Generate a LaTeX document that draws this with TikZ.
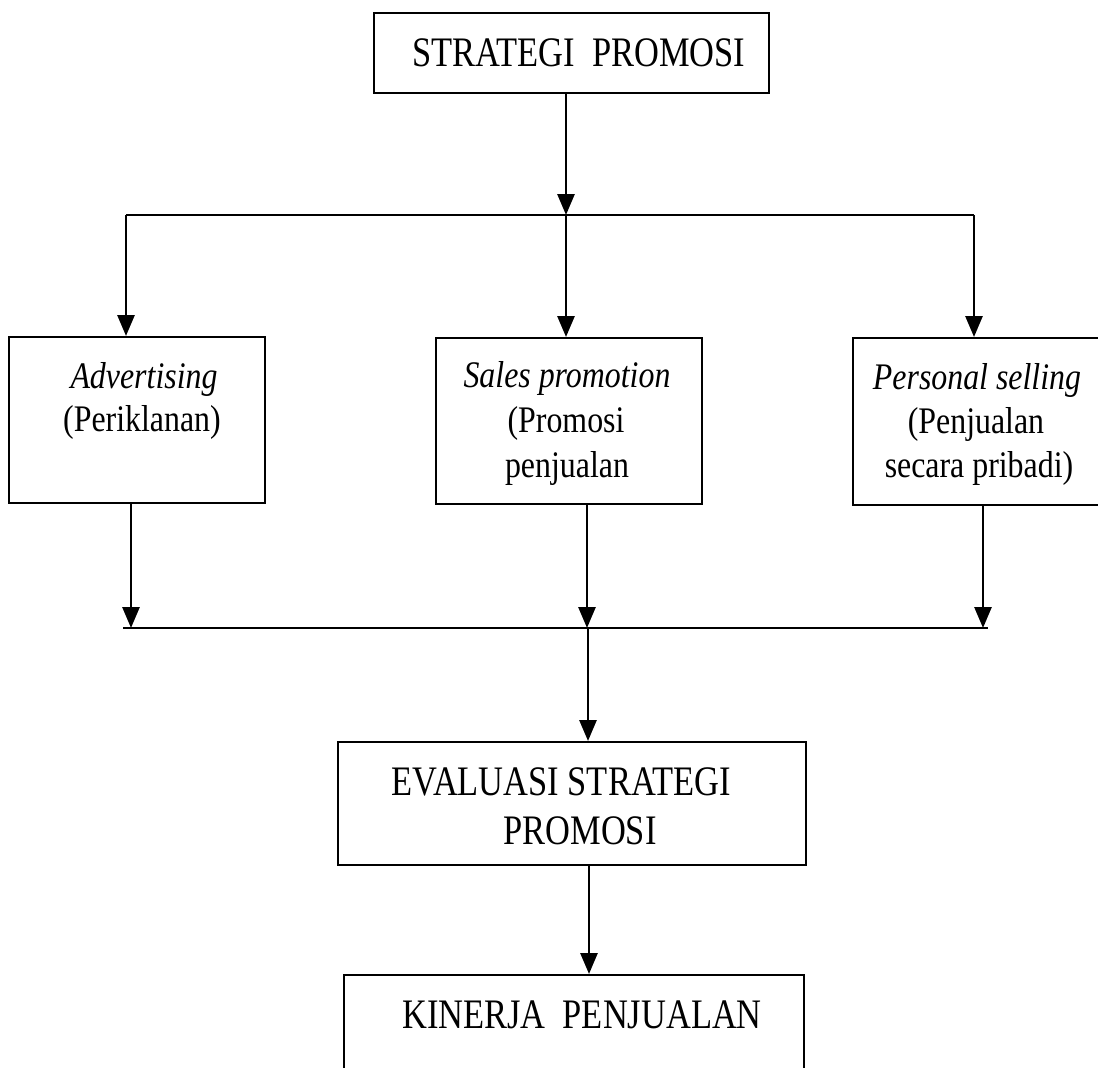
\documentclass[tikz,border=0pt]{standalone}
\usepackage{fontspec}
\setmainfont{Liberation Serif}[FakeStretch=0.85]
\newfontfamily\capfont{Liberation Serif}[FakeStretch=0.82]
\usetikzlibrary{arrows.meta}
\tikzset{
  box/.style={draw, line width=1.6pt, rectangle, inner sep=0pt, anchor=north west},
  arr/.style={line width=2.8pt, -{Triangle[width=17pt,length=21pt]}},
  hln/.style={line width=2pt},
  captxt/.style={font=\capfont\fontsize{42}{42}\selectfont, anchor=base, inner sep=0pt},
  boxtxt/.style={font=\fontsize{37.5}{37.5}\selectfont, anchor=base, inner sep=0pt},
}
\begin{document}
\begin{tikzpicture}[x=1pt,y=-1pt]
\useasboundingbox (0,0) rectangle (1098,1068);
\clip (0,0) rectangle (1098,1068);
% boxes
\node[box, minimum width=395pt, minimum height=80pt] (top) at (373,12) {};
\node[box, minimum width=256pt, minimum height=166pt] (adv) at (8,336) {};
\node[box, minimum width=266pt, minimum height=166pt] (sal) at (435,337) {};
\node[box, minimum width=270pt, minimum height=167pt] (per) at (852,337) {};
\node[box, minimum width=468pt, minimum height=123pt] (eva) at (337,741) {};
\node[box, minimum width=460pt, minimum height=140pt] (kin) at (343,974) {};
% texts
\node[captxt] (ttop) at (579,66) {STRATEGI\ \ PROMOSI};
\node[boxtxt] (tadv1) at (144,388) {\itshape Advertising};
\node[boxtxt] (tadv2) at (142,431) {(Periklanan)};
\node[boxtxt] (tsal1) at (567,387) {\itshape Sales promotion};
\node[boxtxt] (tsal2) at (566,432) {(Promosi};
\node[boxtxt] (tsal3) at (567,477) {penjualan};
\node[boxtxt] (tper1) at (977,389) {\itshape Personal selling};
\node[boxtxt] (tper2) at (976,433) {(Penjualan};
\node[boxtxt] (tper3) at (979,477) {secara pribadi)};
\node[captxt] (teva1) at (561,795) {EVALUASI STRATEGI};
\node[captxt] (teva2) at (580,844) {PROMOSI};
\node[captxt] (tkin) at (582,1028) {KINERJA\ \ PENJUALAN};
% junction coordinates
\coordinate (j1) at (566,215);
\coordinate (hl) at (126,215);
\coordinate (hr) at (974,215);
\coordinate (bl) at (123,628);
\coordinate (br) at (988,628);
\coordinate (a1) at (131,628);
\coordinate (a2) at (587,628);
\coordinate (a3) at (983,628);
\coordinate (j2) at (588,628);
\coordinate (j3) at (589,900);
% connectors
\draw[arr] (top.south -| j1) -- (j1);
\draw[hln] (hl) -- (hr);
\draw[arr] (hl) -- (adv.north -| hl);
\draw[arr] (j1) -- (sal.north -| j1);
\draw[arr] (hr) -- (per.north -| hr);
\draw[arr] (adv.south -| a1) -- (a1);
\draw[arr] (sal.south -| a2) -- (a2);
\draw[arr] (per.south -| a3) -- (a3);
\draw[hln] (bl) -- (br);
\draw[arr] (j2) -- (eva.north -| j2);
\draw[arr] (eva.south -| j3) -- (kin.north -| j3);
\end{tikzpicture}
\end{document}
